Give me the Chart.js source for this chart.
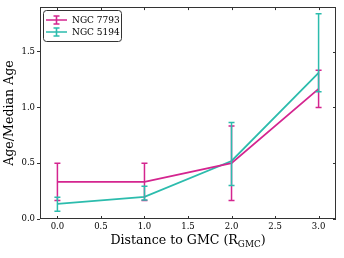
<!DOCTYPE html>
<html>
<head>
<meta charset="utf-8">
<script src="https://cdn.jsdelivr.net/npm/chart.js@4"></script>
<style>
  html, body { margin: 0; padding: 0; background: #fff; }
  #chart { display: block; }
</style>
</head>
<body>
<canvas id="chart" width="344" height="258"></canvas>
<script>
const distances = [0, 1, 2, 3];
const xTicks = [0, 0.5, 1, 1.5, 2, 2.5, 3];
const yTicks = [0, 0.5, 1, 1.5];

const seriesNames = ["NGC 7793", "NGC 5194"];
const seriesColors = ["#d4258f", "#2cbcad"];

const ngc7793 = [0.333, 0.333, 0.5, 1.167];
const ngc7793Lo = [0.167, 0.167, 0.167, 1.0];
const ngc7793Hi = [0.5, 0.5, 0.833, 1.333];

const ngc5194 = [0.135, 0.198, 0.52, 1.31];
const ngc5194Lo = [0.07, 0.17, 0.3, 1.14];
const ngc5194Hi = [0.195, 0.293, 0.865, 1.84];

const errLo = [ngc7793Lo, ngc5194Lo];
const errHi = [ngc7793Hi, ngc5194Hi];

const serif = "'DejaVu Serif', serif";
const frameColor = "#333";
const titleSize = 12.6;
const tickSize = 8.5;

// error bars, inward ticks, frame, legend box, x title with subscript
const extras = {
  id: "extras",
  afterDatasetsDraw(chart) {
    const { ctx, chartArea: a, scales } = chart;
    const xs = scales.x, ys = scales.y;
    ctx.save();

    chart.data.datasets.forEach((ds, i) => {
      ctx.strokeStyle = seriesColors[i];
      ctx.lineWidth = 1.5;
      distances.forEach((d, j) => {
        const px = xs.getPixelForValue(d);
        const top = ys.getPixelForValue(errHi[i][j]);
        const bot = ys.getPixelForValue(errLo[i][j]);
        ctx.beginPath();
        ctx.moveTo(px, top); ctx.lineTo(px, bot);
        ctx.moveTo(px - 3, top); ctx.lineTo(px + 3, top);
        ctx.moveTo(px - 3, bot); ctx.lineTo(px + 3, bot);
        ctx.stroke();
      });
    });

    // frame
    ctx.strokeStyle = frameColor;
    ctx.lineWidth = 1;
    ctx.strokeRect(Math.round(a.left) + 0.5, Math.round(a.top) + 0.5,
      Math.round(a.right - a.left) - 1, Math.round(a.bottom - a.top) - 1);

    ctx.beginPath();
    xTicks.forEach(v => {
      const px = Math.round(xs.getPixelForValue(v)) + 0.5;
      ctx.moveTo(px, a.bottom); ctx.lineTo(px, a.bottom - 3);
      ctx.moveTo(px, a.top); ctx.lineTo(px, a.top + 3);
    });
    yTicks.forEach(v => {
      const py = Math.round(ys.getPixelForValue(v)) + 0.5;
      ctx.moveTo(a.right, py); ctx.lineTo(a.right - 3, py);
    });
    ctx.stroke();

    // legend
    const lx = 43.5, ly = 10.5, lw = 78, lh = 31;
    ctx.beginPath();
    ctx.roundRect(lx, ly, lw, lh, 3);
    ctx.fillStyle = "#fff";
    ctx.fill();
    ctx.strokeStyle = frameColor;
    ctx.stroke();
    seriesNames.forEach((name, i) => {
      const y = 20 + i * 12;
      ctx.strokeStyle = seriesColors[i];
      ctx.lineWidth = 1.6;
      ctx.beginPath();
      ctx.moveTo(46, y); ctx.lineTo(67, y);
      ctx.moveTo(56.5, y - 4); ctx.lineTo(56.5, y + 4);
      ctx.moveTo(53.5, y - 4); ctx.lineTo(59.5, y - 4);
      ctx.moveTo(53.5, y + 4); ctx.lineTo(59.5, y + 4);
      ctx.stroke();
      ctx.fillStyle = "#000";
      ctx.font = "9px " + serif;
      ctx.textBaseline = "middle";
      ctx.textAlign = "left";
      ctx.fillText(name, 72, y + 0.5);
    });

    // x axis title
    const main = "Distance to GMC (R";
    const sub = "GMC";
    const end = ")";
    const subSize = titleSize * 0.7;
    ctx.fillStyle = "#000";
    ctx.textBaseline = "alphabetic";
    ctx.font = titleSize + "px " + serif;
    const w1 = ctx.measureText(main).width;
    const w3 = ctx.measureText(end).width;
    ctx.font = subSize + "px " + serif;
    const w2 = ctx.measureText(sub).width;
    const cx = (a.left + a.right) / 2;
    const x0 = cx - (w1 + w2 + w3) / 2;
    const base = 244;
    ctx.font = titleSize + "px " + serif;
    ctx.fillText(main, x0, base);
    ctx.font = subSize + "px " + serif;
    ctx.fillText(sub, x0 + w1, base + 3);
    ctx.font = titleSize + "px " + serif;
    ctx.fillText(end, x0 + w1 + w2, base);

    ctx.restore();
  }
};

new Chart(document.getElementById("chart"), {
  type: "line",
  data: {
    datasets: [
      {
        label: seriesNames[0],
        data: distances.map((d, j) => ({ x: d, y: ngc7793[j] })),
        borderColor: seriesColors[0],
        borderWidth: 1.8,
        pointRadius: 0,
        tension: 0
      },
      {
        label: seriesNames[1],
        data: distances.map((d, j) => ({ x: d, y: ngc5194[j] })),
        borderColor: seriesColors[1],
        borderWidth: 1.8,
        pointRadius: 0,
        tension: 0
      }
    ]
  },
  options: {
    responsive: false,
    animation: false,
    layout: { padding: { top: 7, right: 8, left: 0, bottom: 0 } },
    plugins: {
      legend: { display: false },
      tooltip: { enabled: false }
    },
    scales: {
      x: {
        type: "linear",
        min: -0.2,
        max: 3.2,
        afterBuildTicks: s => { s.ticks = xTicks.map(v => ({ value: v })); },
        afterFit: s => { s.height = 39; },
        grid: { display: false, drawTicks: false, tickLength: 0 },
        border: { display: false },
        ticks: {
          padding: 3,
          color: "#000",
          font: { family: serif, size: tickSize },
          maxRotation: 0,
          callback: v => v.toFixed(1)
        }
      },
      y: {
        min: 0,
        max: 1.9,
        afterBuildTicks: s => { s.ticks = yTicks.map(v => ({ value: v })); },
        afterFit: s => { s.width = 40; },
        grid: { drawOnChartArea: false, tickLength: 3, color: frameColor },
        border: { display: false },
        title: {
          display: true,
          text: "Age/Median Age",
          color: "#000",
          font: { family: serif, size: titleSize },
          padding: { top: 2, bottom: 0 }
        },
        ticks: {
          padding: 2,
          color: "#000",
          font: { family: serif, size: tickSize },
          callback: v => v.toFixed(1)
        }
      }
    }
  },
  plugins: [extras]
});
</script>
</body>
</html>
